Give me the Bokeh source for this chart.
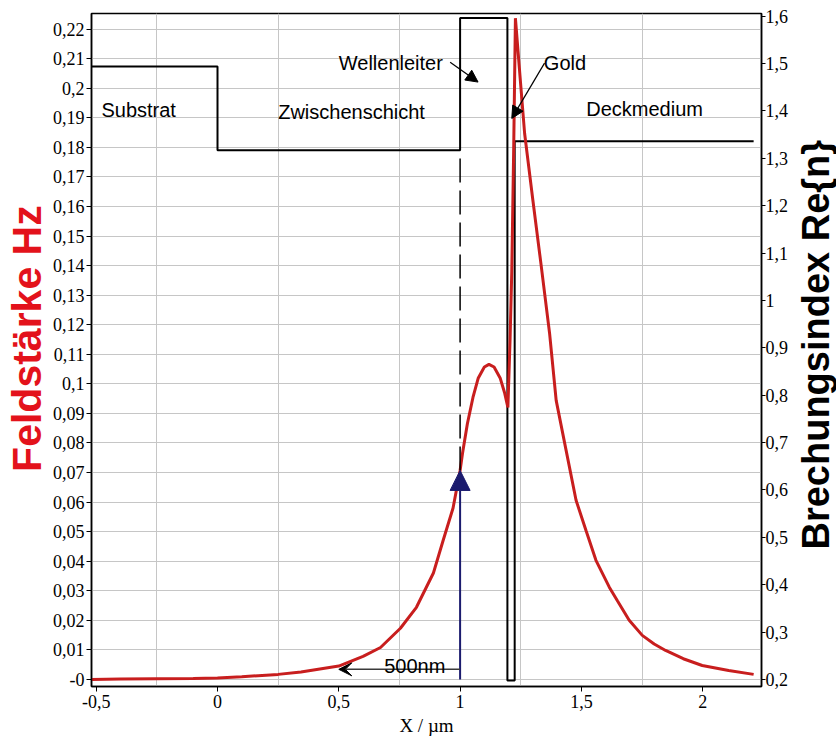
from bokeh.plotting import figure
from bokeh.layouts import row
from bokeh.models import Range1d, LinearAxis, FixedTicker, Label, Arrow, NormalHead, VeeHead
from bokeh.embed import file_html
from bokeh.resources import INLINE

# ---- data -------------------------------------------------------------
# Feldstärke Hz (left axis) along X / µm
field_x = [-0.519, -0.4, -0.25, -0.1, 0.0, 0.1, 0.25, 0.344, 0.5, 0.6, 0.672,
           0.754, 0.82, 0.89, 0.93, 0.971, 1.0, 1.01, 1.03, 1.053, 1.075,
           1.10, 1.119, 1.14, 1.165, 1.184, 1.197, 1.206, 1.213, 1.221, 1.228,
           1.247, 1.266, 1.300, 1.335, 1.369, 1.396, 1.437, 1.478, 1.519,
           1.560, 1.615, 1.649, 1.697, 1.751, 1.80, 1.847, 1.92, 1.998, 2.107,
           2.210]
field_hz = [0.0000, 0.0001, 0.0002, 0.0003, 0.0005, 0.0009, 0.0017, 0.0025,
            0.0045, 0.0078, 0.0108, 0.0173, 0.0244, 0.036, 0.047, 0.058,
            0.0707, 0.0765, 0.0865, 0.0954, 0.1020, 0.1057, 0.1066, 0.1057,
            0.1020, 0.0968, 0.092, 0.115, 0.138, 0.180, 0.2237, 0.2040,
            0.1847, 0.1621, 0.1395, 0.117, 0.0944, 0.0775, 0.0606, 0.0504,
            0.0403, 0.0312, 0.0265, 0.020, 0.0149, 0.0120, 0.0098, 0.0070,
            0.0047, 0.0030, 0.0017]

# Brechungsindex Re{n} (right axis): layer boundaries and indices
layer_names = ["Substrat", "Zwischenschicht", "Wellenleiter", "Gold", "Deckmedium"]
layer_edges = [-0.519, 0.0, 1.0, 1.195, 1.225, 2.21]
layer_n = [1.494, 1.317, 1.596, 0.198, 1.336]

x_ticks = [-0.5, 0.0, 0.5, 1.0, 1.5, 2.0]
x_tick_labels = ["-0,5", "0", "0,5", "1", "1,5", "2"]
x_grid = [-0.25, 0.25, 0.75, 1.25, 1.75, 2.25]

hz_ticks = [0.0, 0.01, 0.02, 0.03, 0.04, 0.05, 0.06, 0.07, 0.08, 0.09, 0.10,
            0.11, 0.12, 0.13, 0.14, 0.15, 0.16, 0.17, 0.18, 0.19, 0.20, 0.21, 0.22]
hz_tick_labels = ["-0", "0,01", "0,02", "0,03", "0,04", "0,05", "0,06", "0,07",
                  "0,08", "0,09", "0,1", "0,11", "0,12", "0,13", "0,14", "0,15",
                  "0,16", "0,17", "0,18", "0,19", "0,2", "0,21", "0,22"]

n_ticks = [0.2, 0.3, 0.4, 0.5, 0.6, 0.7, 0.8, 0.9, 1.0, 1.1, 1.2, 1.3, 1.4, 1.5, 1.6]
n_tick_labels = ["0,2", "0,3", "0,4", "0,5", "0,6", "0,7", "0,8", "0,9", "1",
                 "1,1", "1,2", "1,3", "1,4", "1,5", "1,6"]

# ---- figure --------------------------------------------------------------
X0, X1 = -0.5194, 2.2424
L0, L1 = -0.0024, 0.2253
R0, R1 = 0.1852, 1.6056
NB = "\u00a0"

MAIN_W, SIDE_W, H = 791, 45, 740
p = figure(width=MAIN_W, height=H, output_backend="svg", toolbar_location=None,
           title=None, x_range=Range1d(X0, X1), y_range=Range1d(L0, L1),
           min_border_left=89, min_border_right=MAIN_W - 763, min_border_top=13,
           min_border_bottom=54)
p.extra_y_ranges = {"n": Range1d(R0, R1)}
p.background_fill_color = "white"
p.border_fill_color = "white"
p.outline_line_color = "black"
p.outline_line_width = 1.5

# axes
tick_font = "Liberation Serif"
xa = p.xaxis[0]
xa.ticker = FixedTicker(ticks=x_ticks)
xa.major_label_overrides = dict(zip(x_ticks, x_tick_labels))
ya = p.yaxis[0]
ya.ticker = FixedTicker(ticks=hz_ticks)
ya.major_label_overrides = dict(zip(hz_ticks, hz_tick_labels))
ra = LinearAxis(y_range_name="n", ticker=FixedTicker(ticks=n_ticks))
ra.major_label_overrides = dict(zip(n_ticks, n_tick_labels))
p.add_layout(ra, "right")
for ax, so in ((xa, 3), (ya, 2), (ra, 0)):
    ax.major_label_text_font = tick_font
    ax.major_label_text_font_size = "18px"
    ax.major_label_text_color = "black"
    ax.major_tick_out = 5
    ax.major_tick_in = 0
    ax.minor_tick_out = 0
    ax.minor_tick_in = 0
    ax.axis_line_color = "black"
    ax.axis_line_width = 1.5
    ax.major_tick_line_color = "black"
    ax.major_label_standoff = so
ra.major_tick_out = 4

xa.axis_label = "X / µm"
xa.axis_label_text_font = tick_font
xa.axis_label_text_font_style = "normal"
xa.axis_label_text_font_size = "19px"
xa.axis_label_text_color = "black"
xa.axis_label_standoff = 4

ya.axis_label = NB * 2 + "Feldstärke Hz"
ya.axis_label_text_font = "Liberation Sans"
ya.axis_label_text_font_style = "bold"
ya.axis_label_text_font_size = "41px"
ya.axis_label_text_color = "#e3121b"
ya.axis_label_standoff = 0

p.xgrid.ticker = FixedTicker(ticks=x_grid)
p.ygrid.ticker = FixedTicker(ticks=hz_ticks)
for g in (p.xgrid, p.ygrid):
    g.grid_line_color = "#c6c6c6"
    g.grid_line_width = 1

# refractive index step profile
sx, sy = [], []
for i, n in enumerate(layer_n):
    sx += [layer_edges[i], layer_edges[i + 1]]
    sy += [n, n]
p.line(sx, sy, y_range_name="n", line_color="black", line_width=2)

# field curve
p.line(field_x, field_hz, line_color="#c81e1e", line_width=3)

# dashed guide at the waveguide start, from field value up to interlayer index
wg_x = layer_edges[2]
hz_at_wg = field_hz[field_x.index(wg_x)]
inter_n_left = L0 + (layer_n[1] - R0) * (L1 - L0) / (R1 - R0)
p.line([wg_x, wg_x], [hz_at_wg, inter_n_left], line_color="black",
       line_width=1.5, line_dash="24 8")

# blue arrow: field at waveguide start
p.add_layout(Arrow(end=NormalHead(size=20, fill_color="#1b1b6e", line_color="#1b1b6e"),
                   x_start=wg_x, y_start=0.0, x_end=wg_x, y_end=hz_at_wg,
                   line_color="#1b1b6e", line_width=2))
# 500 nm arrow
p.add_layout(Arrow(end=VeeHead(size=13, fill_color="black", line_color="black"),
                   x_start=wg_x, y_start=0.0034, x_end=wg_x - 0.5, y_end=0.0034,
                   line_color="#3a3a3a", line_width=1.5))
# pointer arrows
p.add_layout(Arrow(end=NormalHead(size=12, fill_color="black", line_color="black"),
                   x_start=0.959, y_start=0.2088, x_end=1.074, y_end=0.2021,
                   line_color="black", line_width=1.2))
p.add_layout(Arrow(end=NormalHead(size=12, fill_color="black", line_color="black"),
                   x_start=1.348, y_start=0.2085, x_end=1.213, y_end=0.1898,
                   line_color="black", line_width=1.2))

# layer labels
txt_pos = [(-0.325, 0.1927), (0.5525, 0.1920), (0.7145, 0.2085), (1.4323, 0.2084),
           (1.7605, 0.1931)]
for name, (tx, ty) in zip(layer_names, txt_pos):
    p.add_layout(Label(x=tx, y=ty, text=name, text_font="Liberation Sans",
                       text_font_size="20px", text_align="center",
                       text_baseline="alphabetic", text_color="black"))
p.add_layout(Label(x=0.813, y=0.0044, text="500nm", text_font="Liberation Sans",
                   text_font_size="20px", text_align="center",
                   text_baseline="alphabetic", text_color="black"))

# ---- narrow side panel carrying the right-hand axis title (reads upward) --
side = figure(width=SIDE_W, height=H, output_backend="svg", toolbar_location=None,
              title=None, x_range=Range1d(0, 1), y_range=Range1d(R0, R1),
              min_border_left=1, min_border_right=0, min_border_top=13,
              min_border_bottom=54)
side.xaxis.visible = False
side.grid.visible = False
side.outline_line_color = None
side.background_fill_color = "white"
side.border_fill_color = "white"
sa = side.yaxis[0]
sa.ticker = FixedTicker(ticks=[])
sa.axis_line_color = None
sa.major_tick_line_color = None
sa.minor_tick_line_color = None
sa.major_label_text_font_size = "0px"
sa.axis_label = NB + "Brechungsindex Re{n}"
sa.axis_label_text_font = "Liberation Sans"
sa.axis_label_text_font_style = "bold"
sa.axis_label_text_font_size = "38px"
sa.axis_label_text_color = "black"
sa.axis_label_standoff = 0

layout = row(p, side)
open("out.html", "w").write(file_html(layout, INLINE))
